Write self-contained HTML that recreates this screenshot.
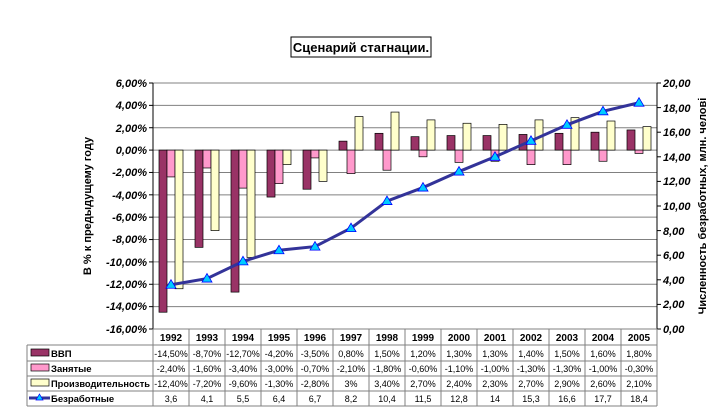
<!DOCTYPE html>
<html><head><meta charset="utf-8"><style>
body{margin:0;background:#fff;}
svg{display:block;font-family:"Liberation Sans",Arial,sans-serif;}
.t{font-size:10px;font-weight:bold;text-anchor:middle;}
.v{font-size:9px;text-anchor:middle;}
.ax{font-size:11px;font-weight:bold;font-style:italic;}
</style></head><body>
<svg id="s" width="722" height="417" viewBox="0 0 722 417">
<rect x="0" y="0" width="722" height="417" fill="#fff"/>
<rect x="291" y="37" width="140" height="20" fill="#fff" stroke="#000" stroke-width="1"/>
<text x="361" y="52" font-size="13" font-weight="bold" text-anchor="middle">Сценарий стагнации.</text>
<g id="grid"></g>
<g id="bars"></g>
<g id="ln"></g>
<g class="ax" text-anchor="end">
<text x="147" y="87">6,00%</text><text x="147" y="109">4,00%</text><text x="147" y="132">2,00%</text><text x="147" y="154">0,00%</text><text x="147" y="176">-2,00%</text><text x="147" y="199">-4,00%</text><text x="147" y="221">-6,00%</text><text x="147" y="243">-8,00%</text><text x="147" y="266">-10,00%</text><text x="147" y="288">-12,00%</text><text x="147" y="310">-14,00%</text><text x="147" y="333">-16,00%</text>
</g>
<g class="ax" text-anchor="start">
<text x="663" y="87">20,00</text><text x="663" y="112">18,00</text><text x="663" y="136">16,00</text><text x="663" y="161">14,00</text><text x="663" y="185">12,00</text><text x="663" y="210">10,00</text><text x="663" y="235">8,00</text><text x="663" y="259">6,00</text><text x="663" y="284">4,00</text><text x="663" y="308">2,00</text><text x="663" y="333">0,00</text>
</g>
<text transform="translate(91,206) rotate(-90)" font-size="11" font-weight="bold" text-anchor="middle">В % к предыдущему году</text>
<text transform="translate(706,206) rotate(-90)" font-size="11" font-weight="bold" text-anchor="middle">Численность безработных, млн. челові</text>
<g id="tbl" stroke="#808080" stroke-width="1" fill="none"></g>
<g class="t">
<text x="171" y="341">1992</text><text x="207" y="341">1993</text><text x="243" y="341">1994</text><text x="279" y="341">1995</text><text x="315" y="341">1996</text><text x="351" y="341">1997</text><text x="387" y="341">1998</text><text x="423" y="341">1999</text><text x="459" y="341">2000</text><text x="495" y="341">2001</text><text x="531" y="341">2002</text><text x="567" y="341">2003</text><text x="603" y="341">2004</text><text x="639" y="341">2005</text>
</g>
<g class="v">
<text x="171" y="357">-14,50%</text><text x="207" y="357">-8,70%</text><text x="243" y="357">-12,70%</text><text x="279" y="357">-4,20%</text><text x="315" y="357">-3,50%</text><text x="351" y="357">0,80%</text><text x="387" y="357">1,50%</text><text x="423" y="357">1,20%</text><text x="459" y="357">1,30%</text><text x="495" y="357">1,30%</text><text x="531" y="357">1,40%</text><text x="567" y="357">1,50%</text><text x="603" y="357">1,60%</text><text x="639" y="357">1,80%</text>
<text x="171" y="372">-2,40%</text><text x="207" y="372">-1,60%</text><text x="243" y="372">-3,40%</text><text x="279" y="372">-3,00%</text><text x="315" y="372">-0,70%</text><text x="351" y="372">-2,10%</text><text x="387" y="372">-1,80%</text><text x="423" y="372">-0,60%</text><text x="459" y="372">-1,10%</text><text x="495" y="372">-1,00%</text><text x="531" y="372">-1,30%</text><text x="567" y="372">-1,30%</text><text x="603" y="372">-1,00%</text><text x="639" y="372">-0,30%</text>
<text x="171" y="387">-12,40%</text><text x="207" y="387">-7,20%</text><text x="243" y="387">-9,60%</text><text x="279" y="387">-1,30%</text><text x="315" y="387">-2,80%</text><text x="351" y="387">3%</text><text x="387" y="387">3,40%</text><text x="423" y="387">2,70%</text><text x="459" y="387">2,40%</text><text x="495" y="387">2,30%</text><text x="531" y="387">2,70%</text><text x="567" y="387">2,90%</text><text x="603" y="387">2,60%</text><text x="639" y="387">2,10%</text>
<text x="171" y="402">3,6</text><text x="207" y="402">4,1</text><text x="243" y="402">5,5</text><text x="279" y="402">6,4</text><text x="315" y="402">6,7</text><text x="351" y="402">8,2</text><text x="387" y="402">10,4</text><text x="423" y="402">11,5</text><text x="459" y="402">12,8</text><text x="495" y="402">14</text><text x="531" y="402">15,3</text><text x="567" y="402">16,6</text><text x="603" y="402">17,7</text><text x="639" y="402">18,4</text>
</g>
<g font-size="9.5" font-weight="bold">
<rect x="31" y="349" width="18" height="7" fill="#993366" stroke="#000" stroke-width="0.7"/><text x="51" y="357">ВВП</text>
<rect x="31" y="364" width="18" height="7" fill="#ff99cc" stroke="#000" stroke-width="0.7"/><text x="51" y="372">Занятые</text>
<rect x="31" y="379" width="18" height="7" fill="#ffffcc" stroke="#000" stroke-width="0.7"/><text x="51" y="387" textLength="99" lengthAdjust="spacingAndGlyphs">Производительность</text>
<line x1="29" y1="398" x2="50" y2="398" stroke="#333399" stroke-width="3"/><polygon points="39.5,394 43,400 36,400" fill="#00ccff" stroke="#0000ff" stroke-width="0.7"/><text x="51" y="402">Безработные</text>
</g>
</svg>
<script>
var NS="http://www.w3.org/2000/svg";
function el(p,t,a){var e=document.createElementNS(NS,t);for(var k in a)e.setAttribute(k,a[k]);document.getElementById(p).appendChild(e);return e;}
var L=153,R=657,T=83,B=329,cw=(R-L)/14;
function yl(v){return T+(6-v)*(B-T)/22;}
function yr(v){return T+(20-v)*(B-T)/20;}
for(var v=6;v>=-16;v-=2){el("grid","line",{x1:L,x2:R,y1:yl(v),y2:yl(v),stroke:"#808080","stroke-width":1});el("grid","line",{x1:L-4,x2:L,y1:yl(v),y2:yl(v),stroke:"#000"});}
for(var v=0;v<=20;v+=2)el("grid","line",{x1:R,x2:R+4,y1:yr(v),y2:yr(v),stroke:"#000"});
el("grid","line",{x1:L,x2:L,y1:T,y2:B,stroke:"#000"});
el("grid","line",{x1:R,x2:R,y1:T,y2:B,stroke:"#000"});
var g=[-14.5,-8.7,-12.7,-4.2,-3.5,0.8,1.5,1.2,1.3,1.3,1.4,1.5,1.6,1.8];
var z=[-2.4,-1.6,-3.4,-3.0,-0.7,-2.1,-1.8,-0.6,-1.1,-1.0,-1.3,-1.3,-1.0,-0.3];
var p=[-12.4,-7.2,-9.6,-1.3,-2.8,3,3.4,2.7,2.4,2.3,2.7,2.9,2.6,2.1];
var u=[3.6,4.1,5.5,6.4,6.7,8.2,10.4,11.5,12.8,14,15.3,16.6,17.7,18.4];
var cols=["#993366","#ff99cc","#ffffcc"];
var y0=yl(0);
for(var i=0;i<14;i++){[g,z,p].forEach(function(s,j){var y=yl(s[i]);el("bars","rect",{x:L+i*cw+6+j*8,y:Math.min(y,y0),width:8,height:Math.abs(y-y0),fill:cols[j],stroke:"#000","stroke-width":0.7});});}
var pts=u.map(function(v,i){return (L+cw*(i+0.5))+","+yr(v);}).join(" ");
el("ln","polyline",{points:pts,fill:"none",stroke:"#333399","stroke-width":3});
u.forEach(function(v,i){var x=L+cw*(i+0.5),y=yr(v);el("ln","polygon",{points:x+","+(y-5)+" "+(x+5)+","+(y+3.5)+" "+(x-5)+","+(y+3.5),fill:"#00ccff",stroke:"#0000ff","stroke-width":0.8});});
var rows=[345,361,376,391,406];
rows.forEach(function(y){el("tbl","line",{x1:27,x2:R,y1:y,y2:y});});
el("tbl","line",{x1:L,x2:R,y1:B,y2:B});
el("tbl","line",{x1:27,x2:27,y1:345,y2:406});
for(var i=0;i<=14;i++)el("tbl","line",{x1:L+i*cw,x2:L+i*cw,y1:B,y2:406});
</script>
</body></html>
